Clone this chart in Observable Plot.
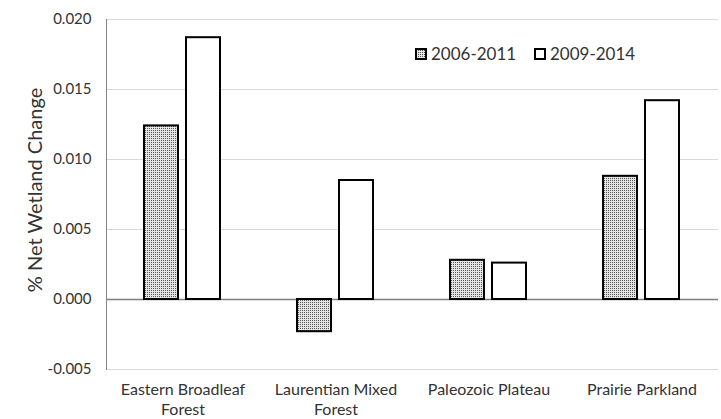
<!DOCTYPE html>
<html><head><meta charset="utf-8">
<script src="https://cdn.jsdelivr.net/npm/d3@7"></script>
<script src="https://cdn.jsdelivr.net/npm/@observablehq/plot@0.6"></script>
<style>
body{margin:0;background:#fff;}
#wrap{width:721px;height:419px;}
</style></head><body><div id="wrap"></div>
<script>
const regions = ["Eastern Broadleaf Forest","Laurentian Mixed Forest","Paleozoic Plateau","Prairie Parkland"];
const regionLabels = ["Eastern Broadleaf\nForest","Laurentian Mixed\nForest","Paleozoic Plateau","Prairie Parkland"];
const periods = ["2006-2011","2009-2014"];
const values2006 = [0.0124, -0.0023, 0.0028, 0.0088];
const values2009 = [0.0187, 0.0085, 0.0026, 0.0142];
const yTicks = [-0.005, 0, 0.005, 0.010, 0.015, 0.020];
const yTitle = "% Net Wetland Change";

const data2006 = regions.map((r, i) => ({region: r, period: periods[0], value: values2006[i]}));
const data2009 = regions.map((r, i) => ({region: r, period: periods[1], value: values2009[i]}));

const chart = Plot.plot({
  width: 721, height: 419,
  marginLeft: 105, marginRight: 2, marginTop: 19, marginBottom: 50,
  style: {fontFamily: "Lato", color: "#333", background: "white", overflow: "visible"},
  fx: {domain: regions, padding: 0, axis: null},
  x: {domain: periods, paddingInner: 0.186, paddingOuter: 0.878, axis: null},
  y: {domain: [-0.005, 0.020], axis: null},
  marks: [
    Plot.gridY(yTicks, {stroke: "#d9d9d9", strokeOpacity: 1}),
    Plot.ruleY([0], {stroke: "#7f7f7f", strokeWidth: 1.3}),
    Plot.frame({anchor: "left", facetAnchor: "left", stroke: "#868686"}),
    Plot.barY(data2006, {fx: "region", x: "period", y: "value", fill: "url(#dots)", stroke: "black", strokeWidth: 2}),
    Plot.barY(data2009, {fx: "region", x: "period", y: "value", fill: "white", stroke: "black", strokeWidth: 2}),
    Plot.axisY(yTicks, {tickSize: 0, tickPadding: 15, tickFormat: d => d.toFixed(3), fontSize: 15, label: null}),
    Plot.axisFx({anchor: "bottom", tickSize: 0, tickPadding: 11, tickFormat: d => regionLabels[regions.indexOf(d)], fontSize: 16, lineHeight: 1.25, label: null})
  ]
});
document.getElementById("wrap").appendChild(chart);

const svg = d3.select(chart);
const defs = svg.insert("defs", ":first-child");
const p = defs.append("pattern").attr("id", "dots").attr("width", 2).attr("height", 2).attr("patternUnits", "userSpaceOnUse");
p.append("rect").attr("width", 2).attr("height", 2).attr("fill", "#e4e4e4");
p.append("rect").attr("width", 1).attr("height", 1).attr("fill", "#555");

// y-axis title
svg.append("text")
  .attr("transform", "translate(35,190) rotate(-90)")
  .attr("text-anchor", "middle").attr("dy", "0.35em")
  .attr("font-family", "Lato").attr("font-size", 20).attr("fill", "#333")
  .text(yTitle);

// legend (inside plot, top right)
const lg = svg.append("g").attr("font-family", "Lato").attr("font-size", 17).attr("fill", "#333").attr("text-anchor", "start");
const legendItems = [{label: periods[0], fill: "url(#dots)", x: 416}, {label: periods[1], fill: "white", x: 535}];
for (const it of legendItems) {
  lg.append("rect").attr("x", it.x).attr("y", 49).attr("width", 10).attr("height", 10)
    .attr("fill", it.fill).attr("stroke", "black").attr("stroke-width", 2);
  lg.append("text").attr("x", it.x + 15).attr("y", 54.5).attr("dy", "0.35em").text(it.label);
}
</script>
</body></html>
